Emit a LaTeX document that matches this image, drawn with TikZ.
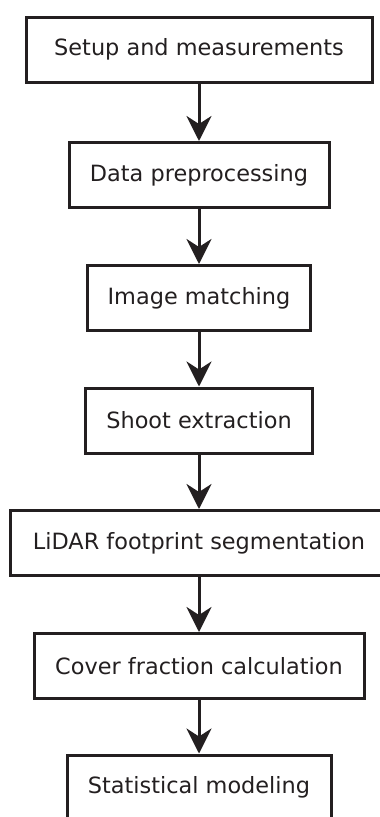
\documentclass[tikz,border=0pt]{standalone}
\usepackage{fontspec}
\setmainfont{DejaVu Sans}
\usetikzlibrary{arrows.meta}
\definecolor{ink}{HTML}{231F20}
\begin{document}
\begin{tikzpicture}[x=1pt,y=1pt,
  stepbox/.style={draw=ink,line width=3pt,inner sep=0pt,minimum height=65pt,
    text=ink,font=\fontsize{22.4}{26}\selectfont,anchor=center},
  flow/.style={draw=ink,line width=3pt,-{Stealth[length=25pt,width=25pt,inset=8pt]}}]
\useasboundingbox (0,0) rectangle (380,-817);
\node[stepbox,minimum width=346pt] (b1) at (199,-49.5) {Setup and measurements};
\node[stepbox,minimum width=260pt] (b2) at (199,-175) {Data preprocessing};
\node[stepbox,minimum width=223pt] (b3) at (199,-298) {Image matching};
\node[stepbox,minimum width=227pt] (b4) at (199,-420.5) {Shoot extraction};
\node[stepbox,minimum width=377pt] (b5) at (199,-543) {LiDAR footprint segmentation};
\node[stepbox,minimum width=330pt] (b6) at (199,-666) {Cover fraction calculation};
\node[stepbox,minimum width=264pt] (b7) at (199,-787.5) {Statistical modeling};
\draw[flow] (b1.south) -- (b2.north);
\draw[flow] (b2.south) -- (b3.north);
\draw[flow] (b3.south) -- (b4.north);
\draw[flow] (b4.south) -- (b5.north);
\draw[flow] (b5.south) -- (b6.north);
\draw[flow] (b6.south) -- (b7.north);
\end{tikzpicture}
\end{document}
